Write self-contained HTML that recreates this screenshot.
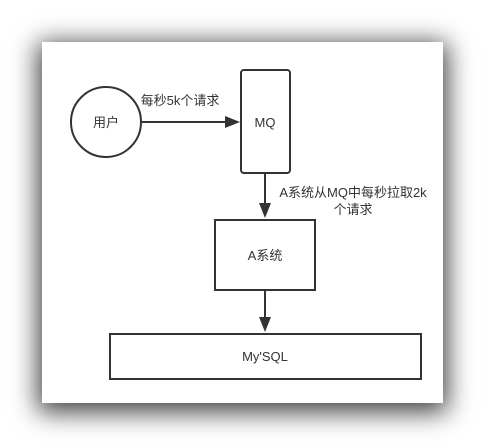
<!DOCTYPE html>
<html><head><meta charset="utf-8"><style>
html,body{margin:0;padding:0;background:#fff;width:485px;height:445px;overflow:hidden}
.panel{position:absolute;left:42px;top:42px;width:401px;height:361px;background:#fff;box-shadow:0 5px 24px 4px rgba(0,0,0,0.75)}
svg{position:absolute;left:0;top:0}
text{font-family:"Liberation Sans","Noto Sans CJK SC",sans-serif;font-size:13px;fill:#333}
</style></head><body>
<div class="panel"></div>
<svg width="485" height="445">
<g stroke="#333" stroke-width="2" fill="none">
<circle cx="106" cy="122" r="35"/>
<rect x="241" y="70" width="49" height="103" rx="3"/>
<rect x="215" y="220" width="100" height="70"/>
<rect x="110" y="334" width="311" height="45"/>
<line x1="141" y1="122" x2="228" y2="122"/>
<line x1="265" y1="173" x2="265" y2="207"/>
<line x1="265" y1="290" x2="265" y2="322"/>
</g>
<g fill="#333">
<polygon points="240,122 225,116 225,128"/>
<polygon points="265,218 259,203 271,203"/>
<polygon points="265,332 259,317 271,317"/>
</g>
<text x="106" y="127" text-anchor="middle">用户</text>
<text x="265" y="127" text-anchor="middle">MQ</text>
<text x="180" y="105" text-anchor="middle">每秒5k个请求</text>
<text x="353" y="197" text-anchor="middle">A系统从MQ中每秒拉取2k</text>
<text x="353" y="214" text-anchor="middle">个请求</text>
<text x="265" y="260" text-anchor="middle">A系统</text>
<text x="265" y="361" text-anchor="middle">My'SQL</text>
</svg>
</body></html>
